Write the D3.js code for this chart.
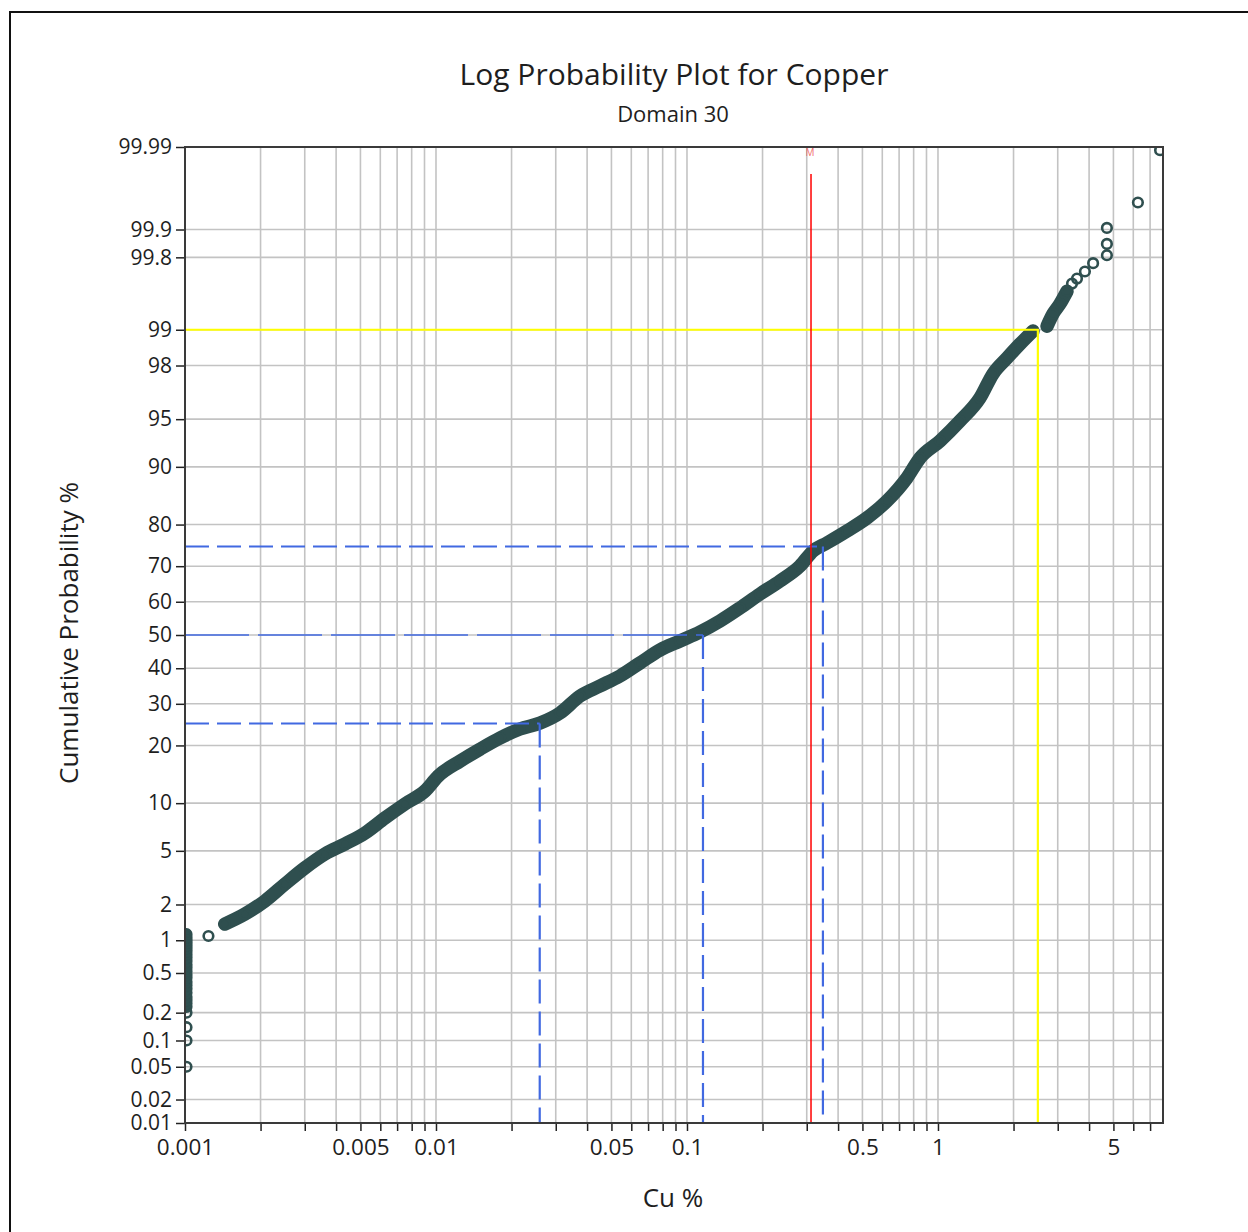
<!DOCTYPE html>
<html><head><meta charset="utf-8">
<script src="https://cdn.jsdelivr.net/npm/d3@7"></script>
<style>
body{margin:0;background:#fff}
svg{display:block}
text{font-family:"Open Sans","Noto Sans",sans-serif;fill:#1e1e1e}
</style>
</head><body>
<svg id="chart" width="1248" height="1232"></svg>
<script>
// ---------------- DATA ----------------
const titleText = "Log Probability Plot for Copper";
const subtitleText = "Domain 30";
const xAxisTitle = "Cu %";
const yAxisTitle = "Cumulative Probability %";

// samples at the detection limit (Cu = 0.001 %)
const detectionLimit = 0.001;
const belowLimitProb = [0.05, 0.1, 0.14, 0.2, 0.23, 0.25, 0.27, 0.29, 0.32, 0.35, 0.38, 0.41, 0.45, 0.48, 0.52, 0.56, 0.6, 0.65, 0.7, 0.75, 0.8, 0.85, 0.9, 0.95, 1.0, 1.06, 1.13];

// main body of the distribution (Cu %, cumulative probability %)
const cuValues = [0.00124, 0.00144, 0.00173, 0.00208, 0.0025, 0.0030, 0.00361, 0.00434, 0.00521, 0.00626, 0.00752, 0.00904, 0.0102, 0.0125, 0.0150, 0.0180, 0.0216, 0.0260, 0.0312, 0.0375, 0.0450, 0.0541, 0.0650, 0.0781, 0.0938, 0.1127, 0.1354, 0.1626, 0.1954, 0.2347, 0.282, 0.318, 0.361, 0.434, 0.521, 0.626, 0.752, 0.848, 1.019, 1.224, 1.470, 1.656, 1.884, 2.122, 2.391];
const cumProb = [1.09, 1.38, 1.67, 2.13, 2.88, 3.79, 4.76, 5.56, 6.56, 8.15, 9.89, 11.72, 14.12, 16.85, 19.24, 21.62, 23.69, 25.12, 27.61, 32.10, 34.87, 37.73, 41.55, 45.45, 48.18, 50.91, 54.25, 58.15, 62.27, 65.97, 70.05, 73.90, 75.84, 78.60, 81.37, 84.64, 88.43, 91.13, 93.04, 94.86, 96.46, 97.67, 98.26, 98.67, 98.975];

// upper cluster after the small gap
const upperCu = [2.719, 2.872, 3.063, 3.266];
const upperProb = [99.07, 99.28, 99.42, 99.56];

// sparse high-grade tail
const tailCu = [3.42, 3.58, 3.85, 4.15, 4.71, 4.71, 4.71, 6.26, 7.67];
const tailProb = [99.63, 99.67, 99.72, 99.77, 99.81, 99.856, 99.904, 99.951, 99.989];

// axes
const yTickProbs = [0.01, 0.02, 0.05, 0.1, 0.2, 0.5, 1, 2, 5, 10, 20, 30, 40, 50, 60, 70, 80, 90, 95, 98, 99, 99.8, 99.9, 99.99];
const yTickLabels = ["0.01", "0.02", "0.05", "0.1", "0.2", "0.5", "1", "2", "5", "10", "20", "30", "40", "50", "60", "70", "80", "90", "95", "98", "99", "99.8", "99.9", "99.99"];
const xLabelValues = [0.001, 0.005, 0.01, 0.05, 0.1, 0.5, 1, 5];
const xLabelTexts = ["0.001", "0.005", "0.01", "0.05", "0.1", "0.5", "1", "5"];
const xMax = 7.88;

// statistics reference lines
const quartileProbs = [25, 50, 75];
const quartileCu = [0.0259, 0.1158, 0.348];
const p99Prob = 99;
const p99Cu = 2.50;
const meanCu = 0.312;

// ---------------- HELPERS ----------------
function probit(p){
  const a=[-3.969683028665376e+01,2.209460984245205e+02,-2.759285104469687e+02,1.383577518672690e+02,-3.066479806614716e+01,2.506628277459239e+00];
  const b=[-5.447609879822406e+01,1.615858368580409e+02,-1.556989798598866e+02,6.680131188771972e+01,-1.328068155288572e+01];
  const c=[-7.784894002430293e-03,-3.223964580411365e-01,-2.400758277161838e+00,-2.549732539343734e+00,4.374664141464968e+00,2.938163982698783e+00];
  const d=[7.784695709041462e-03,3.224671290700398e-01,2.445134137142996e+00,3.754408661907416e+00];
  const pl=0.02425, ph=1-pl; let q,r;
  if(p<pl){q=Math.sqrt(-2*Math.log(p));return (((((c[0]*q+c[1])*q+c[2])*q+c[3])*q+c[4])*q+c[5])/((((d[0]*q+d[1])*q+d[2])*q+d[3])*q+1);}
  if(p<=ph){q=p-0.5;r=q*q;return (((((a[0]*r+a[1])*r+a[2])*r+a[3])*r+a[4])*r+a[5])*q/(((((b[0]*r+b[1])*r+b[2])*r+b[3])*r+b[4])*r+1);}
  q=Math.sqrt(-2*Math.log(1-p));return -(((((c[0]*q+c[1])*q+c[2])*q+c[3])*q+c[4])*q+c[5])/((((d[0]*q+d[1])*q+d[2])*q+d[3])*q+1);
}

// ---------------- LAYOUT ----------------
const L = 185, R = 1163, T = 147, B = 1123;
const svg = d3.select("#chart");

const x = d3.scaleLog().domain([0.001, xMax]).range([L, R]);
const yz = d3.scaleLinear().domain([probit(0.0001), probit(0.9999)]).range([B, T]);
const y = pct => yz(probit(pct / 100));

const GRID = "#c3c3c3", DATA = "#2f4f4f", BLUE = "#4169e1";
const FONT = '"Open Sans","Noto Sans",sans-serif';

// outer frame
svg.append("rect").attr("x", 10).attr("y", 12).attr("width", 1260).attr("height", 1240)
  .attr("fill", "none").attr("stroke", "#111").attr("stroke-width", 2);

// titles
svg.append("text").attr("x", 674).attr("y", 85).attr("text-anchor", "middle")
  .style("font-size", "30px").text(titleText);
svg.append("text").attr("x", 673).attr("y", 122).attr("text-anchor", "middle")
  .style("font-size", "22px").text(subtitleText);

// grid
const xTicksAll = x.ticks().filter(d => d > 0.001 && d < xMax);
svg.append("g").selectAll("line").data(xTicksAll).join("line")
  .attr("x1", d => x(d)).attr("x2", d => x(d)).attr("y1", T).attr("y2", B)
  .attr("stroke", GRID).attr("stroke-width", 1.6);
svg.append("g").selectAll("line").data(yTickProbs.slice(1, -1)).join("line")
  .attr("x1", L).attr("x2", R).attr("y1", d => y(d)).attr("y2", d => y(d))
  .attr("stroke", GRID).attr("stroke-width", 1.6);

// clip for data
svg.append("defs").append("clipPath").attr("id", "plotclip")
  .append("rect").attr("x", L).attr("y", T).attr("width", R - L).attr("height", B - T);
const gData = svg.append("g").attr("clip-path", "url(#plotclip)");

const mainPts = cuValues.map((v, i) => [v, cumProb[i]]);
const upperPts = upperCu.map((v, i) => [v, upperProb[i]]);
const tailPts = tailCu.map((v, i) => [v, tailProb[i]]);
const limitPts = belowLimitProb.map(p => [detectionLimit, p]);

const line = d3.line().x(d => x(d[0])).y(d => y(d[1])).curve(d3.curveMonotoneX);
const vline = d3.line().x(d => x(d[0]) + 1.5).y(d => y(d[1]));
[mainPts.slice(1), upperPts].forEach(seg => {
  gData.append("path").attr("d", line(seg)).attr("fill", "none")
    .attr("stroke", DATA).attr("stroke-width", 13.5)
    .attr("stroke-linecap", "round").attr("stroke-linejoin", "round");
});
gData.append("path").attr("d", vline(limitPts.slice(4))).attr("fill", "none")
  .attr("stroke", DATA).attr("stroke-width", 11)
  .attr("stroke-linecap", "round");
gData.selectAll("circle.pt").data(mainPts.concat(upperPts, tailPts, limitPts)).join("circle")
  .attr("class", "pt")
  .attr("cx", d => x(d[0]) + (d[0] === detectionLimit ? 1.5 : 0))
  .attr("cy", d => y(d[1])).attr("r", 4.8)
  .attr("fill", "none").attr("stroke", DATA).attr("stroke-width", 2.6);

// reference lines
const gRef = svg.append("g");
// p99 (yellow)
gRef.append("path")
  .attr("d", `M${L},${y(p99Prob)}H${x(p99Cu)}V${B}`)
  .attr("fill", "none").attr("stroke", "#ffff00").attr("stroke-width", 2.2);
// quartiles (blue dashed)
quartileProbs.forEach((p, i) => {
  gRef.append("line").attr("x1", L).attr("x2", x(quartileCu[i]))
    .attr("y1", y(p)).attr("y2", y(p))
    .attr("stroke", BLUE).attr("stroke-width", p === 50 ? 1.5 : 2.2)
    .attr("stroke-dasharray", p === 50 ? "64,9" : "24,8");
  gRef.append("line").attr("x1", x(quartileCu[i])).attr("x2", x(quartileCu[i]))
    .attr("y1", y(p)).attr("y2", B)
    .attr("stroke", BLUE).attr("stroke-width", 2.2).attr("stroke-dasharray", "24,8");
});
// mean (red)
gRef.append("line").attr("x1", x(meanCu)).attr("x2", x(meanCu))
  .attr("y1", 174).attr("y2", B).attr("stroke", "#ff0000").attr("stroke-width", 1.5);
gRef.append("text").attr("x", x(meanCu) - 1).attr("y", 156).attr("text-anchor", "middle")
  .style("font-size", "10px").style("fill", "#f07070").text("M");

// axes
const xAxis = d3.axisBottom(x).tickValues(x.ticks().filter(d => d < xMax)).tickSize(8).tickPadding(8)
  .tickFormat(d => { const i = xLabelValues.findIndex(v => Math.abs(v - d) / v < 1e-6); return i >= 0 ? xLabelTexts[i] : ""; });
const gx = svg.append("g").attr("transform", `translate(0,${B})`).call(xAxis);
gx.select(".domain").remove();
gx.selectAll("line").attr("stroke", "#222").attr("stroke-width", 1.5);
gx.selectAll("text").style("font-size", "22.5px").style("font-family", FONT).attr("fill", "#1e1e1e");

const yAxis = d3.axisLeft(yz).tickValues(yTickProbs.map(p => probit(p / 100))).tickSize(9).tickPadding(4)
  .tickFormat((d, i) => yTickLabels[i]);
const gy = svg.append("g").attr("transform", `translate(${L},0)`).call(yAxis);
gy.select(".domain").remove();
gy.selectAll("line").attr("stroke", "#222").attr("stroke-width", 1.5);
gy.selectAll("text").style("font-size", "21px").style("font-family", FONT).attr("fill", "#1e1e1e");

// plot frame
svg.append("rect").attr("x", L).attr("y", T).attr("width", R - L).attr("height", B - T)
  .attr("fill", "none").attr("stroke", "#3a3a3a").attr("stroke-width", 2);

// axis titles
svg.append("text").attr("x", 673).attr("y", 1207).attr("text-anchor", "middle")
  .style("font-size", "26px").text(xAxisTitle);
svg.append("text").attr("transform", "translate(78,633) rotate(-90)").attr("text-anchor", "middle")
  .style("font-size", "26px").text(yAxisTitle);
</script>
</body></html>
